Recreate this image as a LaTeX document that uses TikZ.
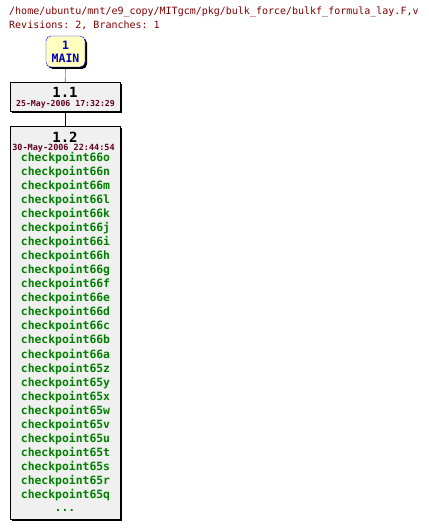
\documentclass[tikz,border=0pt]{standalone}
\usepackage{fontspec}
\setmonofont{DejaVu Sans Mono}
\usetikzlibrary{shadows}
\definecolor{pathred}{RGB}{128,0,0}
\definecolor{datered}{RGB}{96,0,32}
\definecolor{tagreen}{RGB}{0,128,0}
\definecolor{mainfill}{RGB}{255,255,192}
\definecolor{mainblue}{RGB}{0,0,176}
\definecolor{revfill}{RGB}{240,240,240}

\begin{document}
\begin{tikzpicture}[x=1pt,y=-1pt,font=\ttfamily,
  shad/.style={drop shadow={shadow xshift=2pt,shadow yshift=-2pt,fill=black,opacity=1}},
  head/.style={anchor=west,inner sep=0pt,text=pathred,font=\ttfamily\fontsize{10}{10}\selectfont},
  branch/.style={draw=blue,fill=mainfill,rounded corners=5pt,shad,minimum width=39pt,minimum height=31pt,inner sep=0pt},
  rev/.style={draw=black,fill=revfill,shad,minimum width=110pt,inner sep=0pt},
  num/.style={inner sep=0pt,font=\ttfamily\bfseries\fontsize{14}{14}\selectfont},
  date/.style={inner sep=0pt,text=datered,font=\ttfamily\bfseries\fontsize{8.2}{8.2}\selectfont},
  tag/.style={inner sep=0pt,text=tagreen,font=\ttfamily\bfseries\fontsize{11.4}{11.4}\selectfont},
  link/.style={draw=black,thin}]
\useasboundingbox (0,0) rectangle (428,529);
\node[head] (file) at (9,12) {/home/ubuntu/mnt/e9\_copy/MITgcm/pkg/bulk\_force/bulkf\_formula\_lay.F,v};
\node[head] (info) at (9,25) {Revisions: 2, Branches: 1};
% revision tree
\node[branch] (main) at (65.5,51.5) {};
\node[inner sep=0pt,text=mainblue,font=\ttfamily\bfseries\fontsize{11.5}{11.5}\selectfont] (mainnum) at (65.5,45) {1};
\node[inner sep=0pt,text=mainblue,font=\ttfamily\bfseries\fontsize{11.5}{11.5}\selectfont] (mainname) at (65.5,58) {MAIN};
\node[rev,minimum height=29pt] (r11) at (65,96.5) {};
\node[num] (r11num) at (65,92) {1.1};
\node[date] (r11date) at (65.5,104) {25-May-2006 17:32:29};
\node[rev,minimum height=393pt] (r12) at (65,322.5) {};
\node[num] (r12num) at (65,137) {1.2};
\node[date,font=\ttfamily\bfseries\fontsize{8.5}{8.5}\selectfont] (r12date) at (63.5,148) {30-May-2006 22:44:54};
\foreach \t [count=\i from 0] in {66o,66n,66m,66l,66k,66j,66i,66h,66g,66f,66e,66d,66c,66b,66a,
    65z,65y,65x,65w,65v,65u,65t,65s,65r,65q}
  \node[tag] (tag\i) at (65.5,158+14.04*\i) {checkpoint\t};
\node[tag] (more) at (65,510) {...};
\draw[link] (main) -- (r11);
\draw[link] (r11) -- (r12);
\end{tikzpicture}
\end{document}
